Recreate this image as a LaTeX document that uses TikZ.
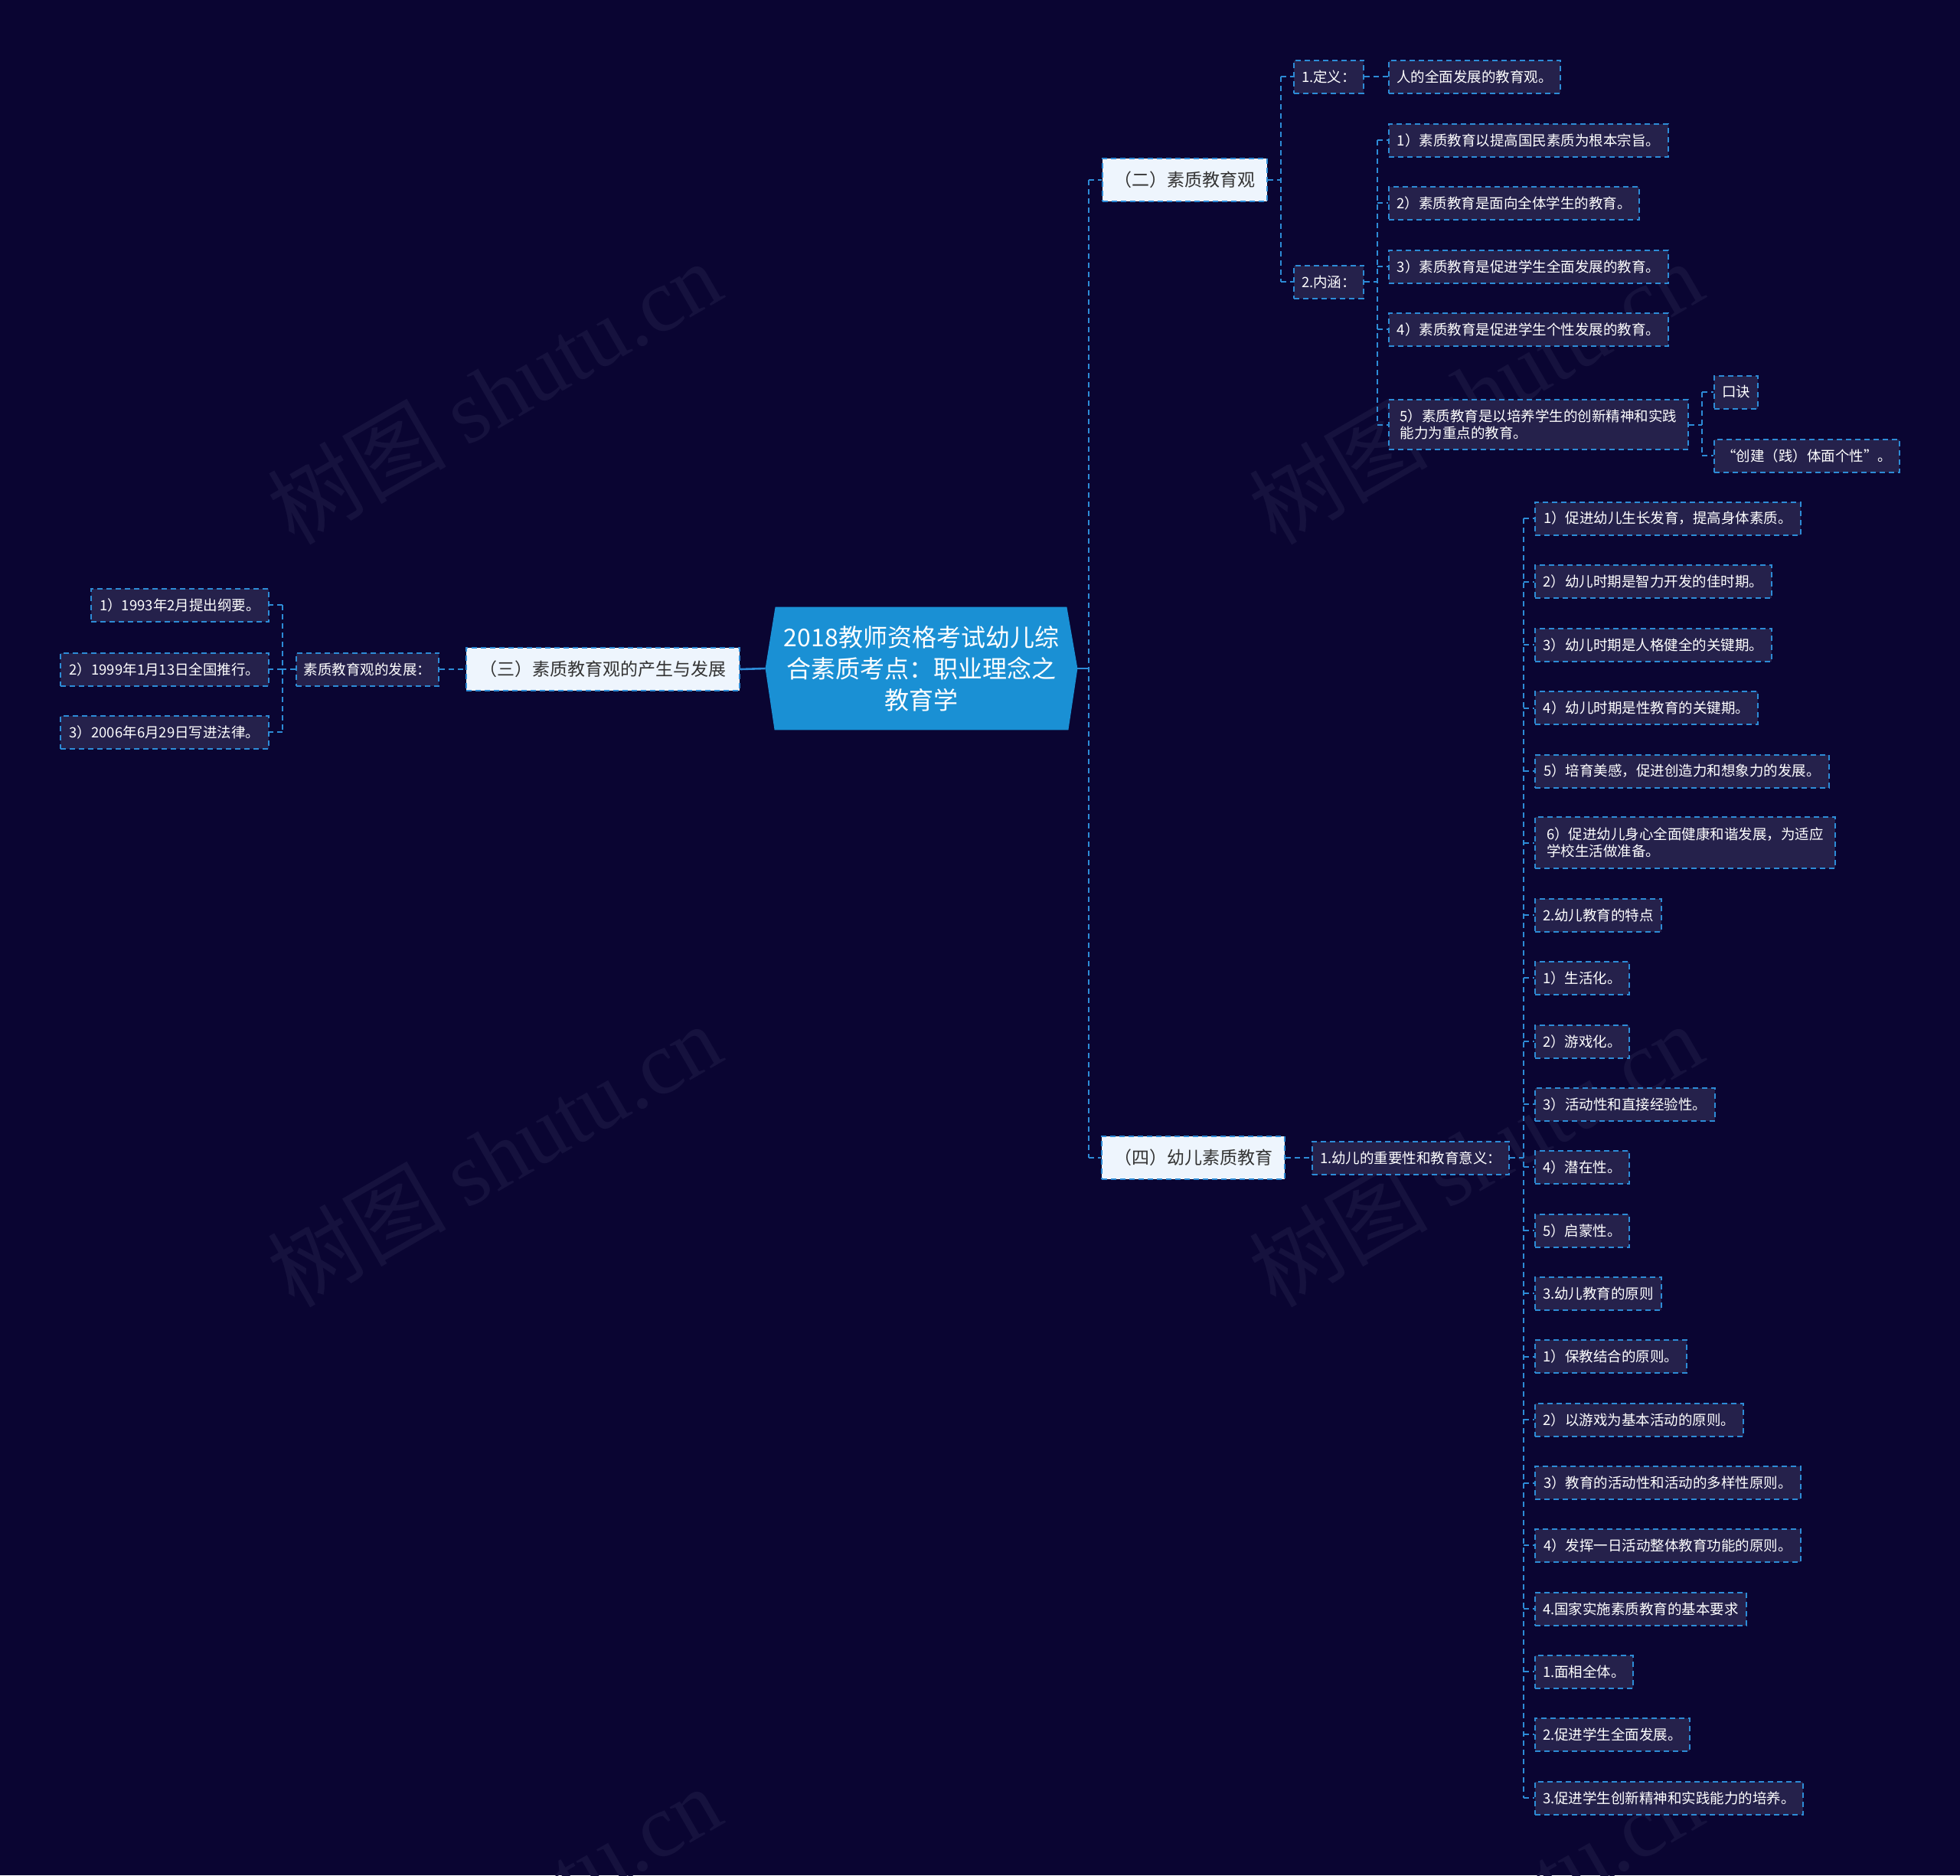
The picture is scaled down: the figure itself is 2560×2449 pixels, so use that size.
\documentclass[tikz,border=0pt]{standalone}
\usepackage{fontspec}
\setmainfont{Noto Sans CJK SC}
\newfontfamily\wmlatin{Liberation Serif}
\usetikzlibrary{calc,backgrounds}
\definecolor{bg}{RGB}{10,5,50}
\definecolor{darkfill}{RGB}{37,33,75}
\definecolor{lineblue}{RGB}{45,140,215}
\definecolor{lightfill}{RGB}{238,245,253}
\definecolor{rootfill}{RGB}{26,144,212}
\definecolor{txtgray}{RGB}{51,51,51}
\definecolor{wm}{RGB}{22,18,62}
\begin{document}
\begin{tikzpicture}[x=0.5pt,y=-0.5pt,
  conn/.style={draw=lineblue, line width=1pt, dash pattern=on 3.5pt off 2.5pt},
  solidconn/.style={draw=lineblue, line width=1.3pt},
  darkbox/.style={draw=lineblue, line width=1pt, dash pattern=on 3.5pt off 2.5pt, fill=darkfill, text=white, font=\fontsize{9.25pt}{11.25pt}\selectfont, align=left, inner xsep=5pt, inner ysep=2pt, minimum height=21.5pt},
  lightbox/.style={draw=lineblue, line width=1pt, dash pattern=on 3.5pt off 2.5pt, fill=lightfill, text=txtgray, font=\fontsize{11.5pt}{14pt}\selectfont, minimum height=28pt, inner xsep=5pt},
  wmark/.style={text=wm, rotate=30, font=\fontsize{58.5pt}{58.5pt}\selectfont, inner sep=0pt}
]
\useasboundingbox (0,0) rectangle (2560,2449);
\begin{scope}[on background layer]
  \fill[bg] (0,0) rectangle (2560,2449);
  \clip (0,0) rectangle (2560,2449);
  \node[wmark] (wm1) at (645,512) {树图 {\wmlatin shutu.cn}};
  \node[wmark] (wm2) at (1927,512) {树图 {\wmlatin shutu.cn}};
  \node[wmark] (wm3) at (645,1508) {树图 {\wmlatin shutu.cn}};
  \node[wmark] (wm4) at (1927,1508) {树图 {\wmlatin shutu.cn}};
  \node[wmark] (wm5) at (645,2504) {树图 {\wmlatin shutu.cn}};
  \node[wmark] (wm6) at (1927,2504) {树图 {\wmlatin shutu.cn}};
\end{scope}

% root
\node[text=white, font=\fontsize{16pt}{20.5pt}\selectfont, align=center, minimum width=203.5pt, minimum height=80pt, inner sep=0pt] (root) at (1203.5,873) {2018教师资格考试幼儿综\\合素质考点：职业理念之\\教育学};
\begin{scope}[on background layer]
  \fill[rootfill] (root.west) -- ($(root.north west)+(13,0)$) -- ($(root.north east)+(-14,0)$) -- (root.east) -- ($(root.south east)+(-12,0)$) -- ($(root.south west)+(12,0)$) -- cycle;
\end{scope}

% level 1
\node[lightbox, minimum width=107.5pt] (b2) at (1547,235) {（二）素质教育观};
\node[lightbox, minimum width=178.5pt] (b3) at (787.5,874) {（三）素质教育观的产生与发展};
\node[lightbox, minimum width=119.5pt] (b4) at (1558.5,1512) {（四）幼儿素质教育};

% (二) subtree
\node[darkbox, anchor=west, minimum width=45pt] (def) at (1689,100) {1.定义：};
\node[darkbox, anchor=west, minimum width=111.5pt] (defc) at (1813,100) {人的全面发展的教育观。};
\node[darkbox, anchor=west, minimum width=45pt] (nh) at (1689,368) {2.内涵：};
\node[darkbox, anchor=west, minimum width=182.5pt] (n1) at (1813,183) {1）素质教育以提高国民素质为根本宗旨。};
\node[darkbox, anchor=west, minimum width=163.5pt] (n2) at (1813,265) {2）素质教育是面向全体学生的教育。};
\node[darkbox, anchor=west, minimum width=182.5pt] (n3) at (1813,348) {3）素质教育是促进学生全面发展的教育。};
\node[darkbox, anchor=west, minimum width=182.5pt] (n4) at (1813,430) {4）素质教育是促进学生个性发展的教育。};
\node[darkbox, anchor=west, minimum width=195.5pt, minimum height=32.5pt] (n5) at (1813,554.5) {5）素质教育是以培养学生的创新精神和实践\\能力为重点的教育。};
\node[darkbox, anchor=west, minimum width=28pt] (kj) at (2238,512) {口诀};
\node[darkbox, anchor=west, minimum width=121pt] (kj2) at (2238,595) {“创建（践）体面个性”。};

% (三) subtree
\node[darkbox, minimum width=93pt] (fz) at (480,874) {素质教育观的发展：};
\node[darkbox, anchor=east, minimum width=116pt] (l1) at (352,790) {1）1993年2月提出纲要。};
\node[darkbox, anchor=east, minimum width=136pt] (l2) at (352,874) {2）1999年1月13日全国推行。};
\node[darkbox, anchor=east, minimum width=136pt] (l3) at (352,956) {3）2006年6月29日写进法律。};

% (四) subtree
\node[darkbox, anchor=west, minimum width=128.5pt] (yr) at (1713,1512) {1.幼儿的重要性和教育意义：};
\node[darkbox, anchor=west, minimum width=173.5pt] (m1) at (2004,677) {1）促进幼儿生长发育，提高身体素质。};
\node[darkbox, anchor=west, minimum width=154.5pt] (m2) at (2004,759.5) {2）幼儿时期是智力开发的佳时期。};
\node[darkbox, anchor=west, minimum width=154.5pt] (m3) at (2004,842) {3）幼儿时期是人格健全的关键期。};
\node[darkbox, anchor=west, minimum width=145.5pt] (m4) at (2004,924.5) {4）幼儿时期是性教育的关键期。};
\node[darkbox, anchor=west, minimum width=192pt] (m5) at (2004,1007) {5）培育美感，促进创造力和想象力的发展。};
\node[darkbox, anchor=west, minimum width=196pt, minimum height=33.5pt] (m6) at (2004,1100.5) {6）促进幼儿身心全面健康和谐发展，为适应\\学校生活做准备。};
\node[darkbox, anchor=west, minimum width=82.5pt] (m7) at (2004,1195) {2.幼儿教育的特点};
\node[darkbox, anchor=west, minimum width=61.5pt] (m8) at (2004,1277) {1）生活化。};
\node[darkbox, anchor=west, minimum width=61.5pt] (m9) at (2004,1360) {2）游戏化。};
\node[darkbox, anchor=west, minimum width=117.5pt] (m10) at (2004,1442) {3）活动性和直接经验性。};
\node[darkbox, anchor=west, minimum width=61.5pt] (m11) at (2004,1524) {4）潜在性。};
\node[darkbox, anchor=west, minimum width=61.5pt] (m12) at (2004,1607) {5）启蒙性。};
\node[darkbox, anchor=west, minimum width=82.5pt] (m13) at (2004,1689) {3.幼儿教育的原则};
\node[darkbox, anchor=west, minimum width=99pt] (m14) at (2004,1771.5) {1）保教结合的原则。};
\node[darkbox, anchor=west, minimum width=136pt] (m15) at (2004,1854) {2）以游戏为基本活动的原则。};
\node[darkbox, anchor=west, minimum width=173.5pt] (m16) at (2004,1936.5) {3）教育的活动性和活动的多样性原则。};
\node[darkbox, anchor=west, minimum width=173.5pt] (m17) at (2004,2018) {4）发挥一日活动整体教育功能的原则。};
\node[darkbox, anchor=west, minimum width=138pt] (m18) at (2004,2101) {4.国家实施素质教育的基本要求};
\node[darkbox, anchor=west, minimum width=64pt] (m19) at (2004,2183) {1.面相全体。};
\node[darkbox, anchor=west, minimum width=101pt] (m20) at (2004,2265) {2.促进学生全面发展。};
\node[darkbox, anchor=west, minimum width=175pt] (m21) at (2004,2348) {3.促进学生创新精神和实践能力的培养。};

% connectors: root
\coordinate (tr) at ($(root.east)+(15,0)$);
\draw[solidconn] (root.east) -- (tr);
\draw[conn] (tr |- b2.west) -- (tr |- b4.west);
\draw[conn] (tr |- b2.west) -- (b2.west);
\draw[conn] (tr |- b4.west) -- (b4.west);
\draw[solidconn] (root.west) -- (b3.east);

% (二)
\coordinate (j2) at ($(b2.east)+(17,0)$);
\draw[conn] (b2.east) -- (j2);
\draw[conn] (j2 |- def.west) -- (j2 |- nh.west);
\draw[conn] (j2 |- def.west) -- (def.west);
\draw[conn] (j2 |- nh.west) -- (nh.west);
\draw[conn] (def.east) -- (defc.west);
\coordinate (jn) at ($(nh.east)+(17,0)$);
\draw[conn] (nh.east) -- (jn);
\draw[conn] (jn |- n1.west) -- (jn |- n5.west);
\foreach \n in {n1,n2,n3,n4,n5} {\draw[conn] (jn |- \n.west) -- (\n.west);}
\coordinate (j5) at ($(n5.east)+(17,0)$);
\draw[conn] (n5.east) -- (j5);
\draw[conn] (j5 |- kj.west) -- (j5 |- kj2.west);
\draw[conn] (j5 |- kj.west) -- (kj.west);
\draw[conn] (j5 |- kj2.west) -- (kj2.west);

% (三)
\draw[conn] (fz.east) -- (b3.west);
\coordinate (jl) at ($(fz.west)+(-17,0)$);
\draw[conn] (fz.west) -- (jl);
\draw[conn] (jl |- l1.east) -- (jl |- l3.east);
\foreach \n in {l1,l2,l3} {\draw[conn] (jl |- \n.east) -- (\n.east);}

% (四)
\draw[conn] (b4.east) -- (yr.west);
\coordinate (jy) at ($(yr.east)+(18,0)$);
\draw[conn] (yr.east) -- (jy);
\draw[conn] (jy |- m1.west) -- (jy |- m21.west);
\foreach \n in {m1,m2,m3,m4,m5,m6,m7,m8,m9,m10,m11,m12,m13,m14,m15,m16,m17,m18,m19,m20,m21} {\draw[conn] (jy |- \n.west) -- (\n.west);}
\end{tikzpicture}
\end{document}
